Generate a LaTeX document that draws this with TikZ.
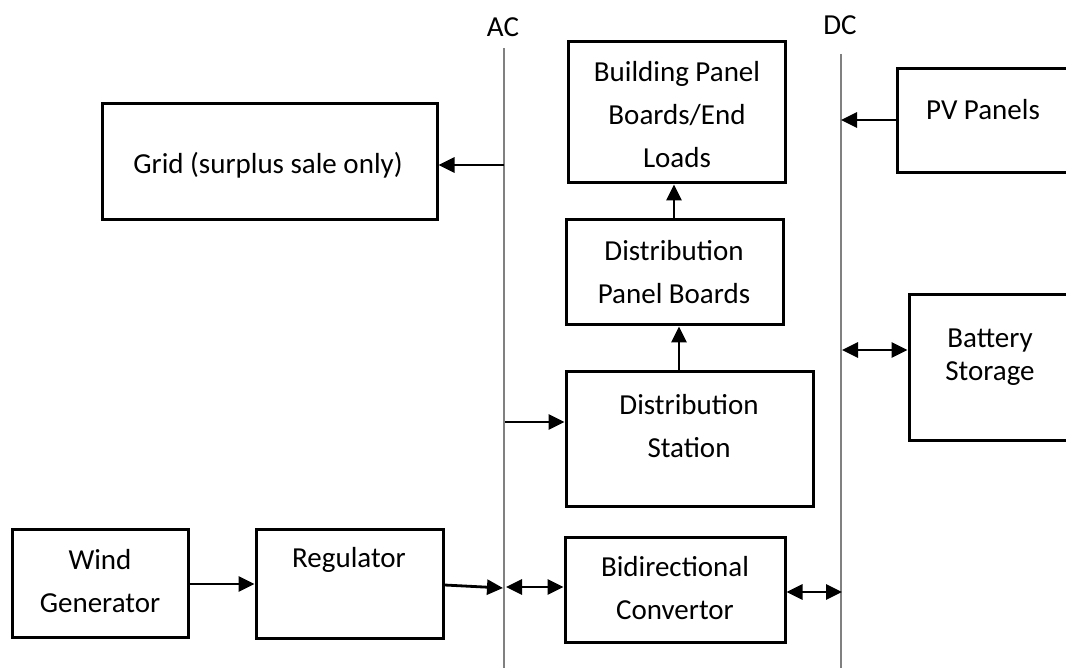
\documentclass[tikz,border=0pt]{standalone}
\usepackage{fontspec}
\setmainfont{Carlito}
\usetikzlibrary{arrows.meta}
\tikzset{
  box/.style={draw, line width=3pt, inner sep=0pt, fill=none},
  txt/.style={align=center, inner sep=0pt, font=\fontsize{29}{43}\selectfont},
  txtsingle/.style={align=center, inner sep=0pt, font=\fontsize{29}{33}\selectfont},
  bus/.style={line width=1.2pt, draw=black!50},
  arr/.style={line width=2.8pt, -{Triangle[length=16pt,width=15pt]}},
  darr/.style={line width=2.8pt, {Triangle[length=16pt,width=15pt]}-{Triangle[length=16pt,width=15pt]}}
}
\begin{document}
\begin{tikzpicture}[x=1pt,y=-1pt]
\clip (0,0) rectangle (1066,668);
\fill[white] (0,0) rectangle (1066,668);

% buses
\coordinate (acTop) at (504,48);
\coordinate (acBot) at (504,668);
\coordinate (dcTop) at (841,54);
\coordinate (dcBot) at (841,668);
\draw[bus] (acTop) -- (acBot);
\draw[bus] (dcTop) -- (dcBot);
\node[txt] (aclab) at (503,27) {AC};
\node[txt] (dclab) at (840,25) {DC};

% boxes
\node[box, minimum width=335pt, minimum height=116pt] (grid) at (269.5,162) {};
\node[box, minimum width=217pt, minimum height=141pt] (build) at (676.5,112.5) {};
\node[box, minimum width=213pt, minimum height=104pt] (pv) at (1003.5,121) {};
\node[box, minimum width=201pt, minimum height=145pt] (bat) at (1009.5,367.5) {};
\node[box, minimum width=217pt, minimum height=105pt] (dpb) at (674.5,272.5) {};
\node[box, minimum width=247pt, minimum height=134pt] (ds) at (689.5,439) {};
\node[box, minimum width=220pt, minimum height=105pt] (bc) at (675,589.5) {};
\node[box, minimum width=176pt, minimum height=108pt] (wg) at (100,583) {};
\node[box, minimum width=187pt, minimum height=109pt] (reg) at (349.5,583.5) {};

% labels
\node[txt] (gridt) at (268,165) {Grid (surplus sale only)};
\node[txt] (buildt) at (677,115) {Building Panel\\Boards/End\\Loads};
\node[txt] (pvt) at (983,110) {PV Panels};
\node[txtsingle] (batt) at (990,357) {Battery\\Storage};
\node[txt] (dpbt) at (674,272) {Distribution\\Panel Boards};
\node[txt] (dst) at (689,426) {Distribution\\Station};
\node[txt] (bct) at (675,588) {Bidirectional\\Convertor};
\node[txt] (wgt) at (100,581) {Wind\\Generator};
\node[txt] (regt) at (349,560) {Regulator};

% connectors
\coordinate (acg) at (504,165);
\draw[arr] (acg) -- (acg -| grid.east);
\coordinate (dcpv) at (841,120);
\draw[arr] (dcpv -| pv.west) -- (dcpv);
\draw[arr] (dpb.north -| 674,0) -- (build.south -| 674,0);
\draw[arr] (ds.north -| 679,0) -- (dpb.south -| 679,0);
\coordinate (acds) at (505,422);
\draw[arr] (acds) -- (acds -| ds.west);
\coordinate (dcb) at (842,350);
\draw[darr] (dcb) -- (dcb -| bat.west);
\draw[arr] (wg.east |- 0,584) -- (reg.west |- 0,584);
\coordinate (acr) at (503,588);
\draw[arr] (reg.east |- 0,585) -- (acr);
\coordinate (acbc) at (506,587);
\draw[darr] (acbc) -- (acbc -| bc.west);
\coordinate (dcbc) at (842,592);
\draw[darr] (dcbc -| bc.east) -- (dcbc);
\end{tikzpicture}
\end{document}
